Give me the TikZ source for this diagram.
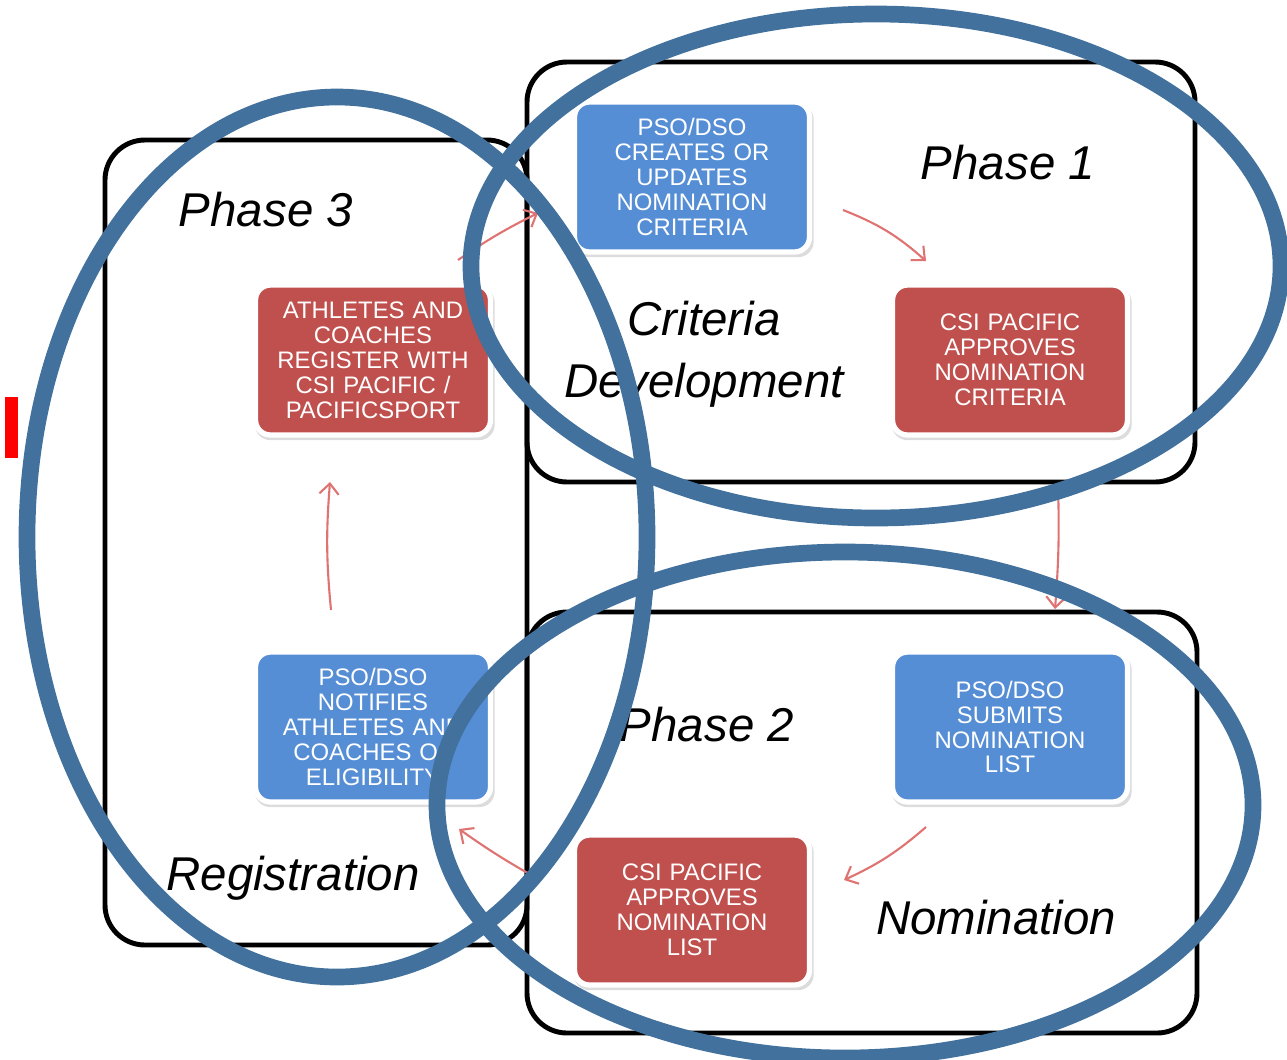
\documentclass[tikz,border=0pt]{standalone}
\usepackage{fontspec}
\setmainfont{Liberation Sans}
\usetikzlibrary{arrows.meta,shadows}
\definecolor{stepblue}{HTML}{558ED5}
\definecolor{stepred}{HTML}{C0504D}
\definecolor{ringblue}{HTML}{41719C}
\definecolor{flowred}{HTML}{DE7371}

\begin{document}
\begin{tikzpicture}[x=0.02cm, y=-0.02cm,
    phasebox/.style={draw=black, line width=2.8pt, rounded corners=0.8cm},
    task/.style={rounded corners=0.3cm, draw=white, line width=3pt,
      minimum width=4.7cm, minimum height=3cm, text width=4.4cm, align=center,
      text=white, font=\fontsize{13.6}{14.2}\selectfont,
      drop shadow={opacity=0.28, shadow xshift=1pt, shadow yshift=-2pt, shadow scale=1.02}},
    bluetask/.style={task, fill=stepblue},
    redtask/.style={task, fill=stepred},
    phaselabel/.style={font=\fontsize{27}{35}\selectfont\itshape},
    flow/.style={draw=flowred, line width=1.2pt, -{Straight Barb[length=6pt, width=11pt]}},
    ring/.style={draw=ringblue, line width=9.5pt}]
  \useasboundingbox (0,0) rectangle (1287,1059);
  % phase frames
  \draw[phasebox] (105,140) rectangle (527,945);
  \draw[phasebox] (527,62) rectangle (1195,482);
  \draw[phasebox] (527,612) rectangle (1197,1033);
  % tasks
  \node[bluetask] (creates) at (692,177) {PSO/DSO\\CREATES OR\\UPDATES\\NOMINATION\\CRITERIA};
  \node[redtask] (critok) at (1010,360) {CSI PACIFIC\\APPROVES\\NOMINATION\\CRITERIA};
  \node[bluetask] (submits) at (1010,727) {PSO/DSO\\SUBMITS\\NOMINATION\\LIST};
  \node[redtask] (listok) at (692,910) {CSI PACIFIC\\APPROVES\\NOMINATION\\LIST};
  \node[bluetask] (notifies) at (373,727) {PSO/DSO\\NOTIFIES\\ATHLETES AND\\COACHES OF\\ELIGIBILITY};
  \node[redtask] (register) at (373,360) {ATHLETES AND\\COACHES\\REGISTER WITH\\CSI PACIFIC /\\PACIFICSPORT};
  % arrow ends
  \coordinate (a1) at (458,260);
  \coordinate (b1) at (538,213);
  \coordinate (a2) at (843,210);
  \coordinate (b2) at (926,261);
  \coordinate (a3) at (1058,485);
  \coordinate (b3) at (1055,609);
  \coordinate (a4) at (926,827);
  \coordinate (b4) at (844,880);
  \coordinate (a5) at (540,880);
  \coordinate (b5) at (459,829);
  \coordinate (a6) at (331,610);
  \coordinate (b6) at (330,482);
  \draw[flow] (a1) to[bend left=4] (b1);
  \draw[flow] (a2) to[bend left=10] (b2);
  \draw[flow] (a3) to[bend left=3] (b3);
  \draw[flow] (a4) to[bend left=8] (b4);
  \draw[flow] (a5) to[bend left=3] (b5);
  \draw[flow] (a6) to[bend left=5] (b6);
  % phase labels
  \node[phaselabel] (ph1) at (1008,163) {Phase 1};
  \node[phaselabel] (ph3) at (266,210) {Phase 3};
  \node[phaselabel] (ph2) at (707,725) {Phase 2};
  \node[phaselabel, align=center] (critdev) at (704,354) {Criteria\\Development};
  \node[phaselabel] (regname) at (293,878) {Registration};
  \node[phaselabel] (nomname) at (996,918) {Nomination};
  % mark
  \fill[red] (5,397) rectangle (18,458);
  % rings
  \draw[ring] (876,266) ellipse [x radius=405, y radius=252];
  \draw[ring] (337,537) ellipse [x radius=310, y radius=440];
  \draw[ring] (845,805) ellipse [x radius=408, y radius=253];
\end{tikzpicture}
\end{document}
